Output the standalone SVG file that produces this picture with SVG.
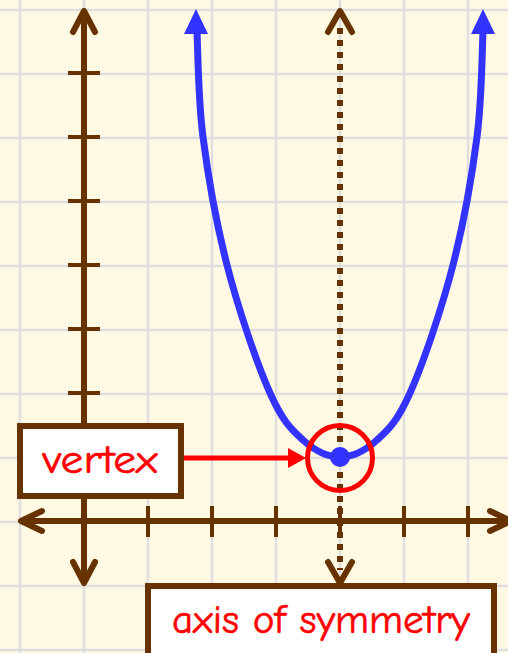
<svg xmlns="http://www.w3.org/2000/svg" width="508" height="653" viewBox="0 0 508 653">
<style>
.grid line{stroke:#dedede;stroke-width:2.5}
.ax{stroke:#663300;stroke-width:6;fill:none;stroke-linecap:round;stroke-linejoin:round}
.tick{stroke:#663300;stroke-width:4}
.lbl{font-family:"Comic Sans MS","Comic Neue","Liberation Sans",sans-serif;font-size:40px;fill:#ff0000;stroke:#ff0000;stroke-width:0.6;text-anchor:middle}
.box{fill:#ffffff;stroke:#663300;stroke-width:6}
</style>
<rect width="508" height="653" fill="#fff8e2"/>
<g class="grid">
<line x1="20" y1="0" x2="20" y2="653"/><line x1="84" y1="0" x2="84" y2="653"/><line x1="148" y1="0" x2="148" y2="653"/><line x1="212" y1="0" x2="212" y2="653"/><line x1="276" y1="0" x2="276" y2="653"/><line x1="340" y1="0" x2="340" y2="653"/><line x1="404" y1="0" x2="404" y2="653"/><line x1="468" y1="0" x2="468" y2="653"/>
<line x1="0" y1="10" x2="508" y2="10"/><line x1="0" y1="74" x2="508" y2="74"/><line x1="0" y1="138" x2="508" y2="138"/><line x1="0" y1="202" x2="508" y2="202"/><line x1="0" y1="266" x2="508" y2="266"/><line x1="0" y1="330" x2="508" y2="330"/><line x1="0" y1="394" x2="508" y2="394"/><line x1="0" y1="458" x2="508" y2="458"/><line x1="0" y1="522" x2="508" y2="522"/><line x1="0" y1="586" x2="508" y2="586"/><line x1="0" y1="650" x2="508" y2="650"/>
</g>
<g id="axes">
<path class="ax" d="M84,12 V582 M73,32 L84,11 L95,32 M73,562 L84,583 L95,562"/>
<path class="ax" d="M22,521 H508 M42,511 L21,521 L42,531 M490,511 L511,521 L490,531"/>
<g class="tick">
<line x1="68" y1="73" x2="100" y2="73"/><line x1="68" y1="137" x2="100" y2="137"/><line x1="68" y1="201" x2="100" y2="201"/><line x1="68" y1="265" x2="100" y2="265"/><line x1="68" y1="329" x2="100" y2="329"/><line x1="68" y1="393" x2="100" y2="393"/>
<line x1="148" y1="506" x2="148" y2="537"/><line x1="212" y1="506" x2="212" y2="537"/><line x1="276" y1="506" x2="276" y2="537"/><line x1="340" y1="506" x2="340" y2="537"/><line x1="404" y1="506" x2="404" y2="537"/><line x1="468" y1="506" x2="468" y2="537"/>
</g>
</g>
<g id="symmetry-axis">
<line x1="340" y1="28" x2="340" y2="570" stroke="#663300" stroke-width="6" stroke-dasharray="6 6"/>
<path class="ax" d="M328,32 L340,11 L352,32 M328,562 L340,583 L352,562"/>
</g>
<g id="parabola">
<path d="M197,33 C198,50 198,98 203,137 C208,176 216,222 227,265 C238,308 257,364 270,393 C283,422 291,429 303,440 C315,451 328,457 340,457 C352,457 365,451 377,440 C389,429 397,422 410,393 C423,364 442,308 453,265 C464,222 472,176 477,137 C482,98 482,50 483,33" fill="none" stroke="#3333ff" stroke-width="7"/>
<polygon points="196,9 184,34 208,34" fill="#3333ff"/>
<polygon points="483,9 471,34 495,34" fill="#3333ff"/>
</g>
<g id="vertex-point">
<circle cx="340" cy="458" r="32.5" fill="none" stroke="#ff0000" stroke-width="5"/>
<circle cx="340" cy="457" r="10" fill="#3333ff"/>
</g>
<g id="connectors">
<line x1="184" y1="458" x2="292" y2="458" stroke="#ff0000" stroke-width="5"/>
<polygon points="288,448 306,458 288,468" fill="#ff0000"/>
</g>
<g id="vertex-label">
<rect class="box" x="20" y="426" width="161" height="70"/>
<text class="lbl" x="100" y="473" textLength="115" lengthAdjust="spacingAndGlyphs">vertex</text>
</g>
<g id="axis-label">
<rect class="box" x="148" y="586" width="346" height="90"/>
<text class="lbl" x="321" y="633" textLength="298" lengthAdjust="spacingAndGlyphs">axis of symmetry</text>
</g>
</svg>
